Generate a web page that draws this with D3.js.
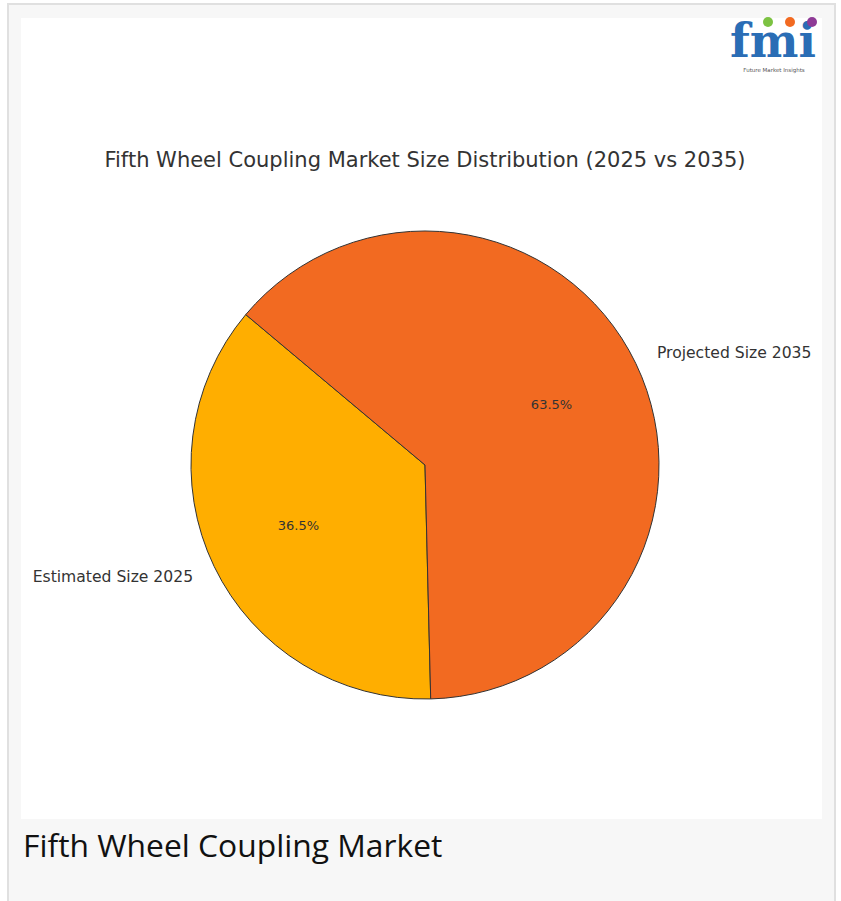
<!DOCTYPE html>
<html>
<head>
<meta charset="utf-8">
<script src="https://cdn.jsdelivr.net/npm/d3@7/dist/d3.min.js"></script>
<style>
  html, body { margin: 0; padding: 0; background: #ffffff; }
  svg { display: block; }
</style>
</head>
<body>
<svg id="chart" width="841" height="901"></svg>
<script>
const categories = ["Estimated Size 2025", "Projected Size 2035"];
const values = [36.5, 63.5];
const colors = ["#ffae00", "#f26a21"];
const title = "Fifth Wheel Coupling Market Size Distribution (2025 vs 2035)";
const caption = "Fifth Wheel Coupling Market";

const svg = d3.select("#chart");

// outer card
svg.append("rect").attr("x", 8).attr("y", 4).attr("width", 827).attr("height", 905)
  .attr("fill", "#f7f7f7").attr("stroke", "#e0e0e0").attr("stroke-width", 2);
// white plot area
svg.append("rect").attr("x", 21).attr("y", 18).attr("width", 801).attr("height", 801)
  .attr("fill", "#ffffff");

// logo
const logo = svg.append("g");
logo.append("text").attr("x", 773).attr("y", 57).attr("text-anchor", "middle")
  .attr("font-family", "DejaVu Serif").attr("font-weight", "bold").attr("font-size", 46)
  .attr("fill", "#2a6db5").attr("letter-spacing", 0).text("fmi");
[[768, "#7cc242"], [790, "#f26a21"], [812, "#8e3b96"]].forEach(([x, c]) => {
  logo.append("circle").attr("cx", x).attr("cy", 22).attr("r", 5).attr("fill", c);
});
logo.append("text").attr("x", 774).attr("y", 72).attr("text-anchor", "middle")
  .attr("font-family", "DejaVu Sans").attr("font-size", 5.5).attr("fill", "#555")
  .text("Future Market Insights");

// title
svg.append("text").attr("x", 425).attr("y", 167).attr("text-anchor", "middle")
  .attr("font-family", "DejaVu Sans").attr("font-size", 21).attr("fill", "#333")
  .text(title);

// pie
const cx = 425, cy = 465, r = 234;
const start = (90 - 140) * Math.PI / 180;
const pie = d3.pie().sort(null).value(d => d).startAngle(start).endAngle(start - 2 * Math.PI);
const arcs = pie(values);
const arc = d3.arc().innerRadius(0).outerRadius(r);
const labelArc = d3.arc().innerRadius(r * 1.1).outerRadius(r * 1.1);
const pctArc = d3.arc().innerRadius(r * 0.6).outerRadius(r * 0.6);

const g = svg.append("g").attr("transform", `translate(${cx},${cy})`);
g.selectAll("path.slice").data(arcs).join("path").attr("class", "slice")
  .attr("d", arc).attr("fill", (d, i) => colors[i])
  .attr("stroke", "#333").attr("stroke-width", 1).attr("stroke-linejoin", "round");

g.selectAll("text.pct").data(arcs).join("text").attr("class", "pct")
  .attr("transform", d => `translate(${pctArc.centroid(d)})`)
  .attr("text-anchor", "middle").attr("dominant-baseline", "central")
  .attr("font-family", "DejaVu Sans").attr("font-size", 13).attr("fill", "#333")
  .text(d => d.data.toFixed(1) + "%");

g.selectAll("text.lbl").data(arcs).join("text").attr("class", "lbl")
  .attr("transform", d => `translate(${labelArc.centroid(d)})`)
  .attr("text-anchor", d => labelArc.centroid(d)[0] < 0 ? "end" : "start")
  .attr("dominant-baseline", "central")
  .attr("font-family", "DejaVu Sans").attr("font-size", 15.6).attr("fill", "#333")
  .text((d, i) => categories[i]);

// caption
svg.append("text").attr("x", 23).attr("y", 857)
  .attr("font-family", "Open Sans").attr("font-size", 31.8).attr("fill", "#111")
  .text(caption);
</script>
</body>
</html>
